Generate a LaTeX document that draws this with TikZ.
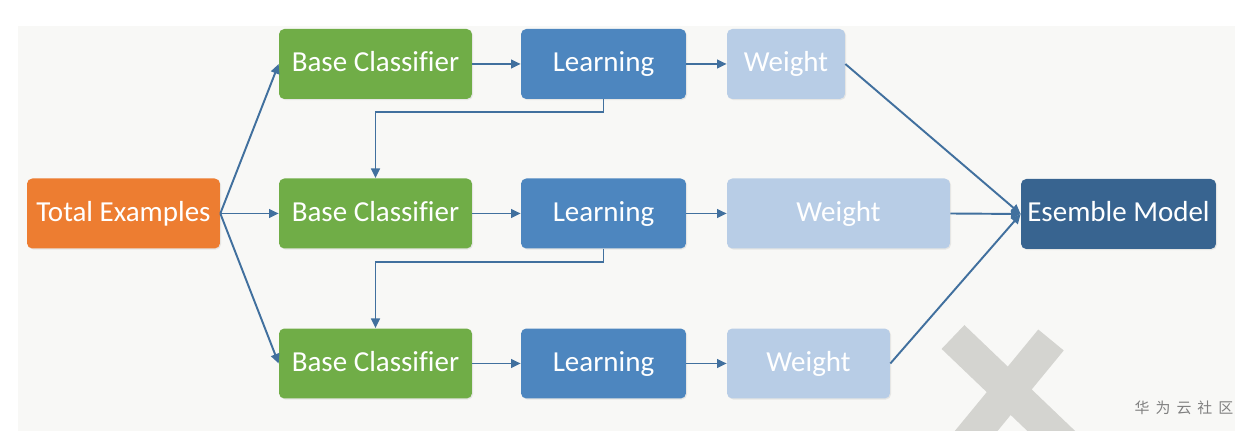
\documentclass[tikz,border=0pt]{standalone}
\usepackage{fontspec}
\setmainfont[Ligatures=CommonOff]{Carlito}
\newfontfamily\cjkfont[LetterSpace=40]{Noto Sans CJK SC}
\usetikzlibrary{arrows.meta,shadows}
\definecolor{panelgray}{HTML}{F8F8F6}
\definecolor{markgray}{HTML}{D4D4D0}
\definecolor{orangebox}{HTML}{ED7D31}
\definecolor{greenbox}{HTML}{70AD47}
\definecolor{learnblue}{HTML}{4D86BF}
\definecolor{weightblue}{HTML}{B8CDE6}
\definecolor{modelblue}{HTML}{386490}
\definecolor{linkblue}{HTML}{41709E}

\begin{document}
\begin{tikzpicture}[x=0.02cm,y=-0.02cm,
  box/.style={rounded corners=3pt,text=white,minimum height=1.4cm,inner sep=0pt,
    text height=12pt,text depth=3pt,
    font=\fontsize{16.5}{20}\selectfont,
    drop shadow={opacity=0.15,shadow xshift=0.6pt,shadow yshift=-0.6pt}},
  link/.style={draw=linkblue,line width=1.1pt,-{Triangle[length=5.5pt,width=5pt]}}]
% page and panel
\useasboundingbox (0,0) rectangle (1252,431);
\fill[white] (0,0) rectangle (1252,431);
\fill[panelgray] (18,26) rectangle (1235,431);
% watermark
\begin{scope}
\clip (18,26) rectangle (1235,431);
\draw[markgray,line width=0.66cm] (953,337) -- (1068,447);
\draw[markgray,line width=0.66cm] (1051,340) -- (963,447);
\end{scope}
\node[text=gray,font=\cjkfont\fontsize{8.5}{10}\selectfont] (mark) at (1184,408) {华为云社区};

% boxes
\node[box,fill=orangebox,minimum width=3.86cm] (total) at (123.5,213.5) {Total Examples};
\foreach \i/\y/\x/\w in {1/64/786/2.36cm,2/213.5/838.5/4.46cm,3/363.5/808.5/3.26cm} {
  \node[box,fill=greenbox,minimum width=3.86cm] (base\i) at (375.5,\y) {Base Classifier};
  \node[box,fill=learnblue,minimum width=3.3cm] (learn\i) at (603.5,\y) {Learning};
  \node[box,fill=weightblue,minimum width=\w] (weight\i) at (\x,\y) {Weight};
}
\node[box,fill=modelblue,minimum width=3.9cm] (model) at (1118.5,214) {Esemble Model};

% connectors
\foreach \i in {1,2,3} {
  \draw[link] (total.east) -- (base\i.west);
  \draw[link] (base\i) -- (learn\i);
  \draw[link] (learn\i) -- (weight\i);
  \draw[link] (weight\i.east) -- (model.west);
}
\foreach \i/\j in {1/2,2/3}
  \draw[link] (learn\i.south) -- ++(0,13) -| (base\j.north);
\end{tikzpicture}
\end{document}
